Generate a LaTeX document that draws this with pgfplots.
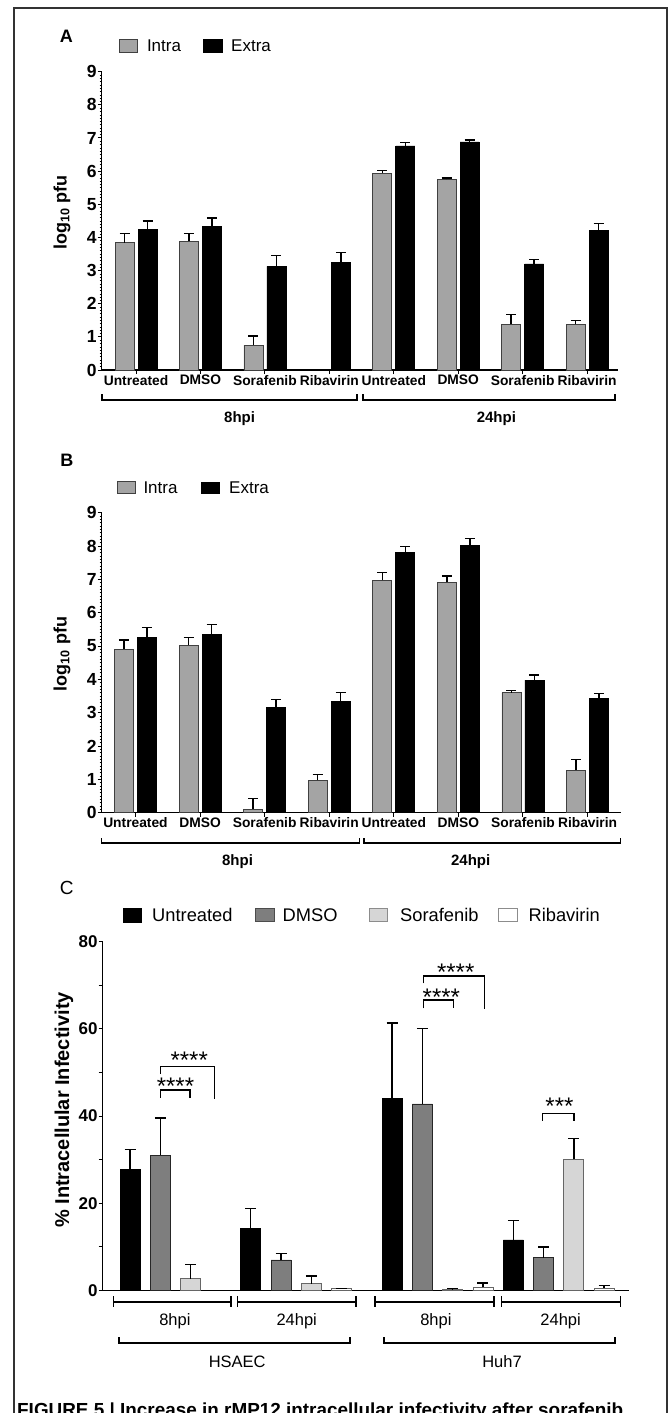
\documentclass[border=0pt]{standalone}
\usepackage{pgfplots}
\pgfplotsset{compat=1.18}
\usepackage{fontspec}
\setmainfont{Liberation Sans}
\newcommand{\fs}[1]{\fontsize{#1}{#1}\selectfont}
\definecolor{intra}{HTML}{A4A4A4}
\definecolor{dmso}{HTML}{7E7E7E}
\definecolor{sora}{HTML}{D6D6D6}
\pgfplotsset{
  panelAB/.style={
    anchor=south west, scale only axis, clip=false,
    ymin=0, ymax=9,
    axis lines=left, axis line style={line width=1.4pt,-},
    tick align=outside, major tick length=4pt, minor tick length=2pt,
    tick style={black, line width=1pt},
    minor tick style={line width=0.5pt},
    xtick={0,...,7},
    xticklabels={Untreated,DMSO,Sorafenib,Ribavirin,Untreated,DMSO,Sorafenib,Ribavirin},
    x tick label style={font=\bfseries\fs{13.8}, inner sep=1pt},
    ytick={0,...,9}, minor y tick num=9,
    y tick label style={font=\bfseries\fs{17.5}, inner sep=1pt},
    /pgf/number format/assume math mode=true,
    ybar=4pt, bar width=19pt,
  },
  intrabar/.style={fill=intra, draw=black!75, line width=0.8pt,
    error bars/.cd, y dir=plus, y explicit,
    error bar style={line width=1.5pt, black},
    error mark options={rotate=90, mark size=5pt, line width=1.5pt, black}},
  extrabar/.style={fill=black, draw=black, line width=0.8pt,
    error bars/.cd, y dir=plus, y explicit,
    error bar style={line width=1.5pt, black},
    error mark options={rotate=90, mark size=5pt, line width=1.5pt, black}},
}
\begin{document}
\begin{tikzpicture}
% ---------------- Panel A ----------------
\begin{axis}[panelAB, at={(101.7pt,-370pt)}, width=516.3pt, height=298.3pt,
  xmin=-0.533, xmax=7.48]
\addplot[intrabar] table[x=x, y=y, y error=e] {
x y e
0 3.84 0.28
1 3.89 0.23
2 0.75 0.28
4 5.94 0.08
5 5.75 0.05
6 1.38 0.30
7 1.38 0.12
};
\addplot[extrabar] table[x=x, y=y, y error=e] {
x y e
0 4.25 0.25
1 4.33 0.26
2 3.13 0.33
3 3.24 0.30
4 6.76 0.11
5 6.88 0.06
6 3.20 0.13
7 4.20 0.22
};
\end{axis}
% ---------------- Panel B ----------------
\begin{axis}[panelAB, at={(101.7pt,-812.7pt)}, width=518.8pt, height=300pt,
  xmin=-0.523, xmax=7.51]
\addplot[intrabar] table[x=x, y=y, y error=e] {
x y e
0 4.91 0.27
1 5.03 0.22
2 0.10 0.33
3 0.98 0.16
4 6.98 0.23
5 6.91 0.19
6 3.60 0.06
7 1.28 0.32
};
\addplot[extrabar] table[x=x, y=y, y error=e] {
x y e
0 5.25 0.31
1 5.34 0.31
2 3.15 0.25
3 3.35 0.25
4 7.80 0.18
5 8.01 0.21
6 3.98 0.15
7 3.42 0.16
};
\end{axis}
% ---------------- Panel C ----------------
\begin{axis}[at={(102.7pt,-1290.5pt)}, anchor=south west, scale only axis, clip=false,
  width=526.3pt, height=348.8pt,
  xmin=-0.6045, xmax=3.760, ymin=0, ymax=80,
  axis lines=left, axis line style={line width=1.4pt,-},
  tick align=outside, major tick length=4pt, minor tick length=4pt,
  tick style={black, line width=1pt},
  xtick=\empty,
  ytick={0,20,40,60,80}, minor ytick={10,30,50,70},
  y tick label style={font=\bfseries\fs{17}, inner sep=1pt},
  /pgf/number format/assume math mode=true,
  ybar=10.3pt, bar width=20pt]
\addplot[fill=black, draw=black, line width=0.8pt,
  error bars/.cd, y dir=plus, y explicit,
  error bar style={line width=1.4pt, black},
  error mark options={rotate=90, mark size=5.5pt, line width=1.4pt, black}]
  table[x=x, y=y, y error=e] {
x y e
0 27.8 4.6
1 14.3 4.5
2.172 44.0 17.4
3.177 11.6 4.4
};
\addplot[fill=dmso, draw=black!85, line width=0.8pt,
  error bars/.cd, y dir=plus, y explicit,
  error bar style={line width=1.4pt, black},
  error mark options={rotate=90, mark size=5.5pt, line width=1.4pt, black}]
  table[x=x, y=y, y error=e] {
x y e
0 31.0 8.6
1 7.0 1.5
2.172 42.8 17.3
3.177 7.5 2.5
};
\addplot[fill=sora, draw=black!60, line width=0.8pt,
  error bars/.cd, y dir=plus, y explicit,
  error bar style={line width=1.4pt, black},
  error mark options={rotate=90, mark size=5.5pt, line width=1.4pt, black}]
  table[x=x, y=y, y error=e] {
x y e
0 2.7 3.3
1 1.55 1.75
2.172 0.3 0.1
3.177 30.1 4.8
};
\addplot[fill=white, draw=black!60, line width=0.8pt,
  error bars/.cd, y dir=plus, y explicit,
  error bar style={line width=1.4pt, black},
  error mark options={rotate=90, mark size=5.5pt, line width=1.4pt, black}]
  table[x=x, y=y, y error=e] {
x y e
1 0.4 0.1
2.172 0.8 0.9
3.177 0.6 0.6
};
\end{axis}
% ---------------- Annotations ----------------
\begin{scope}[x=1pt, y=-1pt]
% frame
\draw[line width=1.2pt, black!80] (14,1413) -- (14,8) -- (667,8) -- (667,1413);
% panel letters
\node[font=\bfseries\fs{18}] at (66.3,36) {A};
\node[font=\bfseries\fs{18}] at (66.8,460) {B};
\node[font=\fs{19}] at (66.8,888) {C};
% legend A
\filldraw[fill=intra, draw=black!75, line width=0.8pt] (119.8,39.3) rectangle (137.8,52.7);
\node[anchor=west, inner sep=0pt, font=\fs{17}] at (146.8,45.7) {Intra};
\filldraw[fill=black, draw=black] (203.3,39.3) rectangle (222.5,52.7);
\node[anchor=west, inner sep=0pt, font=\fs{17}] at (231,45.7) {Extra};
% legend B
\filldraw[fill=intra, draw=black!75, line width=0.8pt] (117.7,481.7) rectangle (135.5,493.3);
\node[anchor=west, inner sep=0pt, font=\fs{17}] at (143.3,487.3) {Intra};
\filldraw[fill=black, draw=black] (201,481.7) rectangle (219.5,493.3);
\node[anchor=west, inner sep=0pt, font=\fs{17}] at (229,487.3) {Extra};
% legend C
\filldraw[fill=black, draw=black] (122.7,908.3) rectangle (141.5,921.7);
\node[anchor=west, inner sep=0pt, font=\fs{18.3}] at (152,915) {Untreated};
\filldraw[fill=dmso, draw=black!70, line width=0.8pt] (255.5,908.3) rectangle (274,921.7);
\node[anchor=west, inner sep=0pt, font=\fs{18.3}] at (282.4,915) {DMSO};
\filldraw[fill=sora, draw=black!45, line width=0.8pt] (369,908.3) rectangle (387.5,921.7);
\node[anchor=west, inner sep=0pt, font=\fs{18.3}] at (400,915) {Sorafenib};
\filldraw[fill=white, draw=black!45, line width=0.8pt] (498.5,908.3) rectangle (517.5,921.7);
\node[anchor=west, inner sep=0pt, font=\fs{18.3}] at (528.4,915) {Ribavirin};
% y labels
\node[rotate=90, font=\bfseries\fs{18}] at (62,212.5) {log\textsubscript{10} pfu};
\node[rotate=90, font=\bfseries\fs{18}] at (62,654) {log\textsubscript{10} pfu};
\node[rotate=90, font=\bfseries\fs{20}] at (64,1110) {\% Intracellular Infectivity};
% group brackets A
\draw[line width=1.8pt] (101.8,394) -- (101.8,400) -- (357.3,400) -- (357.3,394);
\draw[line width=1.8pt] (362.9,394) -- (362.9,400) -- (615,400) -- (615,394);
\node[font=\bfseries\fs{15}] at (239.6,418.3) {8hpi};
\node[font=\bfseries\fs{15}] at (496.4,418.3) {24hpi};
% group brackets B
\draw[line width=1.8pt] (101.4,838) -- (101.4,843.3) -- (359.4,843.3) -- (359.4,838);
\draw[line width=1.8pt] (363.7,838) -- (363.7,843.3) -- (620.5,843.3) -- (620.5,838);
\node[font=\bfseries\fs{15}] at (237.5,861.7) {8hpi};
\node[font=\bfseries\fs{15}] at (470.7,861.7) {24hpi};
% group brackets C, level 1
\foreach \a/\b in {113.4/231, 237.5/356, 375/494, 501.5/620.5}{
  \draw[line width=1.8pt] (\a,1301.7) -- (\b,1301.7);
  \draw[line width=1.8pt] (\a,1296) -- (\a,1307.4);
  \draw[line width=1.8pt] (\b,1296) -- (\b,1307.4);
}
\node[font=\fs{16.5}] at (174.9,1321.7) {8hpi};
\node[font=\fs{16.5}] at (296.7,1321.7) {24hpi};
\node[font=\fs{16.5}] at (435.9,1321.7) {8hpi};
\node[font=\fs{16.5}] at (560.6,1321.7) {24hpi};
% level 2
\draw[line width=1.8pt] (119,1337) -- (119,1342.7) -- (349.6,1342.7) -- (349.6,1337);
\draw[line width=1.8pt] (384,1337) -- (384,1342.7) -- (615,1342.7) -- (615,1337);
\node[font=\fs{16.5}] at (237.2,1361.7) {HSAEC};
\node[font=\fs{16.5}] at (502,1361.7) {Huh7};
% significance brackets
\draw[line width=1.4pt] (160.7,1097.7) -- (160.7,1090) -- (190,1090) -- (190,1097.7);
\draw[line width=1.4pt] (160.7,1074) -- (160.7,1066.7) -- (214.3,1066.7) -- (214.3,1099.3);
\draw[line width=1.4pt] (423.6,1008.3) -- (423.6,1000) -- (453.6,1000) -- (453.6,1008.3);
\draw[line width=1.4pt] (423.6,983.3) -- (423.6,976) -- (484.4,976) -- (484.4,1009.3);
\draw[line width=1.4pt] (542.7,1120.7) -- (542.7,1113.3) -- (574,1113.3) -- (574,1120.7);
\node[anchor=base, inner sep=0pt, font=\fs{24}] at (175.5,1094) {****};
\node[anchor=base, inner sep=0pt, font=\fs{24}] at (189.2,1068.6) {****};
\node[anchor=base, inner sep=0pt, font=\fs{24}] at (441.4,1005.3) {****};
\node[anchor=base, inner sep=0pt, font=\fs{24}] at (455.7,980.3) {****};
\node[anchor=base, inner sep=0pt, font=\fs{24}] at (559.5,1114) {***};
% caption (cut by the page edge, as in the reference)
\node[anchor=base west, inner sep=0pt, font=\bfseries\fs{18.9}] at (17,1416.5)
  {FIGURE 5 | Increase in rMP12 intracellular infectivity after sorafenib};
\pgfresetboundingbox
\path[use as bounding box] (0,0) rectangle (670,1413);
\end{scope}
\end{tikzpicture}
\end{document}
